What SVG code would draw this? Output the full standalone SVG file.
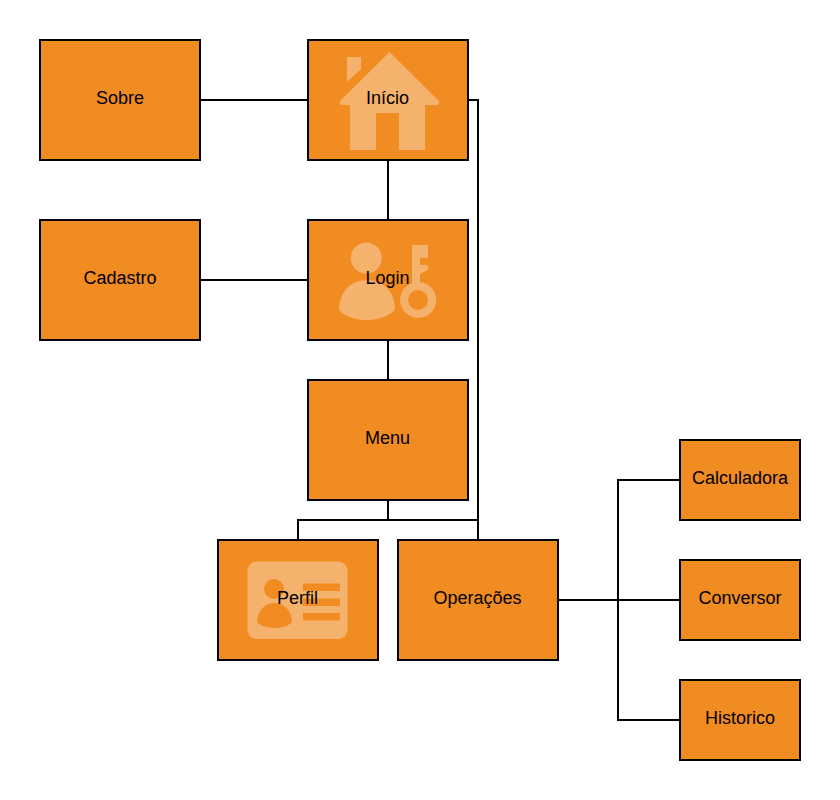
<svg xmlns="http://www.w3.org/2000/svg" width="840" height="800" viewBox="0 0 840 800">
<style>
.box{fill:#f08c22;stroke:#000;stroke-width:2}
.icon{fill:#f5b26c}
.cut{fill:#f08c22}
.lbl{font-family:"Liberation Sans",Arial,sans-serif;font-size:18px;text-anchor:middle;fill:#000}
.con{fill:none;stroke:#000;stroke-width:2}
</style>
<rect width="840" height="800" fill="#fff"/>
<g id="connectors">
<path class="con" d="M200 100H308"/>
<path class="con" d="M200 280H308"/>
<path class="con" d="M388 160V220"/>
<path class="con" d="M388 340V380"/>
<path class="con" d="M388 500V520H298V540"/>
<path class="con" d="M388 520H478"/>
<path class="con" d="M468 100H478V540"/>
<path class="con" d="M558 600H680"/>
<path class="con" d="M618 600V480H680"/>
<path class="con" d="M618 600V720H680"/>
</g>
<g id="sobre"><rect class="box" x="40" y="40" width="160" height="120"/><text class="lbl" x="120" y="104">Sobre</text></g>
<g id="inicio"><rect class="box" x="308" y="40" width="160" height="120"/>
<path class="icon" d="M347 57H361V69L347 82Z"/>
<path class="icon" d="M389.500 52L438 100Q441 104 437 105H425V150H399V113H376V150H350V105H342Q338 104 341 100Z"/>
<text class="lbl" x="387.500" y="104">Início</text></g>
<g id="cadastro"><rect class="box" x="40" y="220" width="160" height="120"/><text class="lbl" x="120" y="284">Cadastro</text></g>
<g id="login"><rect class="box" x="308" y="220" width="160" height="120"/>
<circle class="icon" cx="366.300" cy="258" r="15.500"/>
<path class="icon" d="M339 308C340 291 351 280 367 280C383 280 394 291 395 308C395 313 381 320 367 320C353 320 339 314 339 308Z"/>
<path class="icon" fill-rule="evenodd" d="M412 245H428V258H420V265H428V270L420 274V282A18 18 0 1 1 412 283ZM418 290A10 10 0 1 0 418.010 310A10 10 0 1 0 418 290Z"/>
<text class="lbl" x="387.500" y="284">Login</text></g>
<g id="menu"><rect class="box" x="308" y="380" width="160" height="120"/><text class="lbl" x="387.500" y="444">Menu</text></g>
<g id="perfil"><rect class="box" x="218" y="540" width="160" height="120"/>
<rect class="icon" x="247.500" y="561.500" width="100" height="77.500" rx="9"/>
<circle class="cut" cx="274" cy="589" r="10"/>
<path class="cut" d="M257 621C258 610 265 603 274.500 603C284 603 291 610 292 621C292 624 284 628 274.500 628C265 628 257 624 257 621Z"/>
<rect class="cut" x="303" y="583.500" width="37" height="7.500"/>
<rect class="cut" x="303" y="598.500" width="37" height="7.500"/>
<rect class="cut" x="303" y="613" width="37" height="7.500"/>
<text class="lbl" x="297.500" y="604">Perfil</text></g>
<g id="operacoes"><rect class="box" x="398" y="540" width="160" height="120"/><text class="lbl" x="477.500" y="604">Operações</text></g>
<g id="calculadora"><rect class="box" x="680" y="440" width="120" height="80"/><text class="lbl" x="740" y="484">Calculadora</text></g>
<g id="conversor"><rect class="box" x="680" y="560" width="120" height="80"/><text class="lbl" x="740" y="604">Conversor</text></g>
<g id="historico"><rect class="box" x="680" y="680" width="120" height="80"/><text class="lbl" x="740" y="724">Historico</text></g>
</svg>
